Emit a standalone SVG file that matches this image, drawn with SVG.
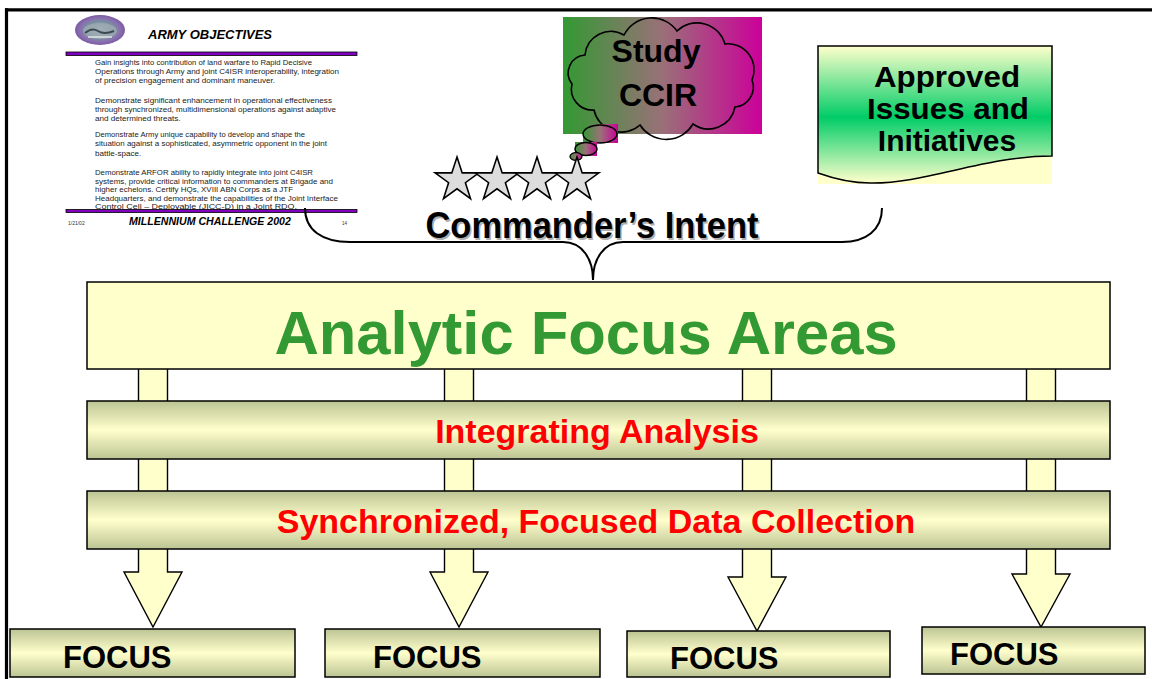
<svg xmlns="http://www.w3.org/2000/svg" width="1152" height="679" viewBox="0 0 1152 679">
  <defs>
    <linearGradient id="olive" x1="0" y1="0" x2="0" y2="1">
      <stop offset="0" stop-color="#bcc493"/>
      <stop offset="0.5" stop-color="#ffffcc"/>
      <stop offset="1" stop-color="#bcc493"/>
    </linearGradient>
    <linearGradient id="thought" x1="0" y1="0" x2="1" y2="0">
      <stop offset="0" stop-color="#339933"/>
      <stop offset="0.5" stop-color="#9a7078"/>
      <stop offset="1" stop-color="#cc0099"/>
    </linearGradient>
    <linearGradient id="docFill" x1="0" y1="0" x2="0" y2="1">
      <stop offset="0" stop-color="#ffffcc"/>
      <stop offset="0.52" stop-color="#00cc66"/>
      <stop offset="1" stop-color="#ffffcc"/>
    </linearGradient>
    <radialGradient id="seal" cx="0.5" cy="0.5" r="0.5">
      <stop offset="0" stop-color="#c8d0d8"/>
      <stop offset="0.55" stop-color="#7890a0"/>
      <stop offset="0.8" stop-color="#8a70b0"/>
      <stop offset="1" stop-color="#7a5aa0"/>
    </radialGradient>
    <polygon id="star" points="0,-23 5.2,-7.1 21.9,-7.1 8.4,2.7 13.5,18.6 0,8.8 -13.5,18.6 -8.4,2.7 -21.9,-7.1 -5.2,-7.1"/>
    <style>
      .sans { font-family: "Liberation Sans", Arial, sans-serif; }
      .body { font-family: "Liberation Sans", Arial, sans-serif; font-size: 8.1px; fill: #222; }
      .bar { fill: url(#olive); stroke: #000; stroke-width: 1.5; }
      .pale { fill: #ffffcc; stroke: #000; stroke-width: 1.5; }
      .arrow { fill: #ffffcc; stroke: #000; stroke-width: 1.4; stroke-linejoin: miter; }
      .focus { font-family: "Liberation Sans", Arial, sans-serif; font-weight: bold; font-size: 31px; fill: #000; }
      .rule { fill: #8000c0; stroke: #000; stroke-width: 0.8; }
      .star { fill: #dddddd; stroke: #000; stroke-width: 1.6; stroke-linejoin: miter; }
      .doc { font-family: "Liberation Sans", Arial, sans-serif; font-weight: bold; font-size: 30px; fill: #000; }
    </style>
  </defs>

  <rect width="1152" height="679" fill="#ffffff"/>

  <!-- frame edges -->
  <line x1="5" y1="9.8" x2="1152" y2="9.8" stroke="#000" stroke-width="3.2"/>
  <line x1="6.5" y1="8.2" x2="6.5" y2="679" stroke="#000" stroke-width="3.2"/>

  <!-- Army objectives slide thumbnail -->
  <g id="army-objectives">
    <ellipse cx="100" cy="30" rx="25" ry="15" fill="url(#seal)"/>
    <ellipse cx="100" cy="31" rx="17" ry="8" fill="#9aa8b0" opacity="0.85"/>
    <path d="M85,33 Q92,27 98,31 T114,31" fill="none" stroke="#3a4a50" stroke-width="2"/>
    <path d="M88,37 H112" stroke="#e0e4e8" stroke-width="1.5"/>
    <text class="sans" x="148" y="39" font-size="13" font-weight="bold" font-style="italic" fill="#000">ARMY OBJECTIVES</text>
    <rect class="rule" x="66" y="52" width="291" height="3.5"/>
    <text class="body" x="95" y="64.5" textLength="217" lengthAdjust="spacingAndGlyphs">Gain insights into contribution of land warfare to Rapid Decisive</text>
    <text class="body" x="95" y="74" textLength="244" lengthAdjust="spacingAndGlyphs">Operations through Army and joint C4ISR interoperability, integration</text>
    <text class="body" x="95" y="83">of precision engagement and dominant maneuver.</text>
    <text class="body" x="95" y="103" textLength="237" lengthAdjust="spacingAndGlyphs">Demonstrate significant enhancement in operational effectiveness</text>
    <text class="body" x="95" y="111.5" textLength="241" lengthAdjust="spacingAndGlyphs">through synchronized, multidimensional operations against adaptive</text>
    <text class="body" x="95" y="120.5">and determined threats.</text>
    <text class="body" x="95" y="136.5" textLength="210" lengthAdjust="spacingAndGlyphs">Demonstrate Army unique capability to develop and shape the</text>
    <text class="body" x="95" y="145.5" textLength="232" lengthAdjust="spacingAndGlyphs">situation against a sophisticated, asymmetric opponent in the joint</text>
    <text class="body" x="95" y="155.5">battle-space.</text>
    <text class="body" x="95" y="175" textLength="218" lengthAdjust="spacingAndGlyphs">Demonstrate ARFOR ability to rapidly integrate into joint C4ISR</text>
    <text class="body" x="95" y="183.5" textLength="238" lengthAdjust="spacingAndGlyphs">systems, provide critical information to commanders at Brigade and</text>
    <text class="body" x="95" y="192" textLength="198" lengthAdjust="spacingAndGlyphs">higher echelons. Certify HQs, XVIII ABN Corps as a JTF</text>
    <text class="body" x="95" y="200.5" textLength="243" lengthAdjust="spacingAndGlyphs">Headquarters, and demonstrate the capabilities of the Joint Interface</text>
    <text class="body" x="95" y="209" textLength="202" lengthAdjust="spacingAndGlyphs">Control Cell – Deployable (JICC-D) in a Joint RDO.</text>
    <rect class="rule" x="66" y="209.5" width="291" height="3"/>
    <text class="sans" x="68" y="225" font-size="5" fill="#333">1/21/02</text>
    <text class="sans" x="129" y="224.5" font-size="10.6" font-weight="bold" font-style="italic" fill="#000">MILLENNIUM CHALLENGE 2002</text>
    <text class="sans" x="342" y="225" font-size="4.5" fill="#333">14</text>
  </g>

  <!-- thought cloud -->
  <g id="study-ccir">
    <rect x="563" y="17" width="199" height="117" fill="url(#thought)"/>
    <path d="M752,80 A20,20 0 0 1 735,107 A27,27 0 0 1 693,124 A31,31 0 0 1 640,125 A28,28 0 0 1 594,110 A21,21 0 0 1 572,84 A18,18 0 0 1 585,55 A26,26 0 0 1 624,35 A31,31 0 0 1 677,31 A29,29 0 0 1 725,44 A26,26 0 0 1 752,80 Z" fill="none" stroke="#000" stroke-width="1.6"/>
    <rect x="583" y="124" width="35" height="19" fill="url(#thought)"/>
    <ellipse cx="600" cy="134" rx="17" ry="9" fill="none" stroke="#000" stroke-width="1.4"/>
    <rect x="575" y="142" width="22" height="14" fill="url(#thought)"/>
    <ellipse cx="586" cy="149" rx="11" ry="6.5" fill="none" stroke="#000" stroke-width="1.4"/>
    <ellipse cx="576" cy="156.5" rx="6" ry="3.8" fill="url(#thought)" stroke="#000" stroke-width="1.3"/>
    <text class="sans" x="656" y="62" font-size="32" font-weight="bold" text-anchor="middle" fill="#000">Study</text>
    <text class="sans" x="658" y="106" font-size="32" font-weight="bold" text-anchor="middle" fill="#000">CCIR</text>
  </g>

  <!-- four stars -->
  <g id="stars">
    <use href="#star" class="star" x="457" y="180"/>
    <use href="#star" class="star" x="497" y="180"/>
    <use href="#star" class="star" x="537" y="180"/>
    <use href="#star" class="star" x="577" y="180"/>
  </g>

  <!-- approved issues document -->
  <g id="approved-issues">
    <rect x="818" y="46" width="234" height="138" fill="#ffffcc"/>
    <path d="M818,46 H1052 V156 C985,156 925,184 870,183 C848,183 832,178 818,173 Z" fill="url(#docFill)" stroke="#000" stroke-width="1.5"/>
    <text class="doc" x="947" y="87" text-anchor="middle" textLength="146" lengthAdjust="spacingAndGlyphs">Approved</text>
    <text class="doc" x="948" y="119" text-anchor="middle" textLength="162" lengthAdjust="spacingAndGlyphs">Issues and</text>
    <text class="doc" x="947" y="150.5" text-anchor="middle">Initiatives</text>
  </g>

  <!-- commander's intent label -->
  <g id="commanders-intent">
    <text class="sans" x="593.5" y="239.5" font-size="37" font-weight="bold" text-anchor="middle" textLength="333" lengthAdjust="spacingAndGlyphs" fill="#b0b0b0">Commander’s Intent</text>
    <text class="sans" x="592" y="238" font-size="37" font-weight="bold" text-anchor="middle" textLength="333" lengthAdjust="spacingAndGlyphs" fill="#000">Commander’s Intent</text>
  </g>

  <!-- connectors -->
  <g id="connectors">
    <path d="M305,208 C305,230 322,242 350,242 L563,242 C583,242 593,260 593,280 C593,260 603,242 623,242 L842,242 C866,242 882,230 882,208" fill="none" stroke="#000" stroke-width="2"/>
    <polygon class="arrow" points="138.5,360 167.5,360 167.5,572 182,572 153,627 124,572 138.5,572"/>
    <polygon class="arrow" points="444.5,360 473.5,360 473.5,572 488,572 459,627 430,572 444.5,572"/>
    <polygon class="arrow" points="742.5,360 771.5,360 771.5,577 786,577 757,631 728,577 742.5,577"/>
    <polygon class="arrow" points="1026.5,360 1055.5,360 1055.5,574 1070,574 1041,627 1012,574 1026.5,574"/>
  </g>

  <!-- main bars -->
  <g id="analytic-focus-areas">
    <rect class="pale" x="87" y="282" width="1023" height="87"/>
    <text class="sans" x="586" y="354" font-size="61.5" font-weight="bold" text-anchor="middle" fill="#339933">Analytic Focus Areas</text>
  </g>
  <g id="integrating-analysis">
    <rect class="bar" x="87" y="401" width="1023" height="58"/>
    <text class="sans" x="597" y="443" font-size="34" font-weight="bold" text-anchor="middle" fill="#ff0000">Integrating Analysis</text>
  </g>
  <g id="data-collection">
    <rect class="bar" x="87" y="491" width="1023" height="58"/>
    <text class="sans" x="596" y="533" font-size="34" font-weight="bold" text-anchor="middle" fill="#ff0000">Synchronized, Focused Data Collection</text>
  </g>

  <!-- focus boxes -->
  <g id="focus-1">
    <rect class="bar" x="10" y="629" width="285" height="48"/>
    <text class="focus" x="63" y="668">FOCUS</text>
  </g>
  <g id="focus-2">
    <rect class="bar" x="325" y="629" width="275" height="48"/>
    <text class="focus" x="373" y="668">FOCUS</text>
  </g>
  <g id="focus-3">
    <rect class="bar" x="627" y="631" width="263" height="46"/>
    <text class="focus" x="670" y="669">FOCUS</text>
  </g>
  <g id="focus-4">
    <rect class="bar" x="922" y="627" width="223" height="47"/>
    <text class="focus" x="950" y="665">FOCUS</text>
  </g>
</svg>
